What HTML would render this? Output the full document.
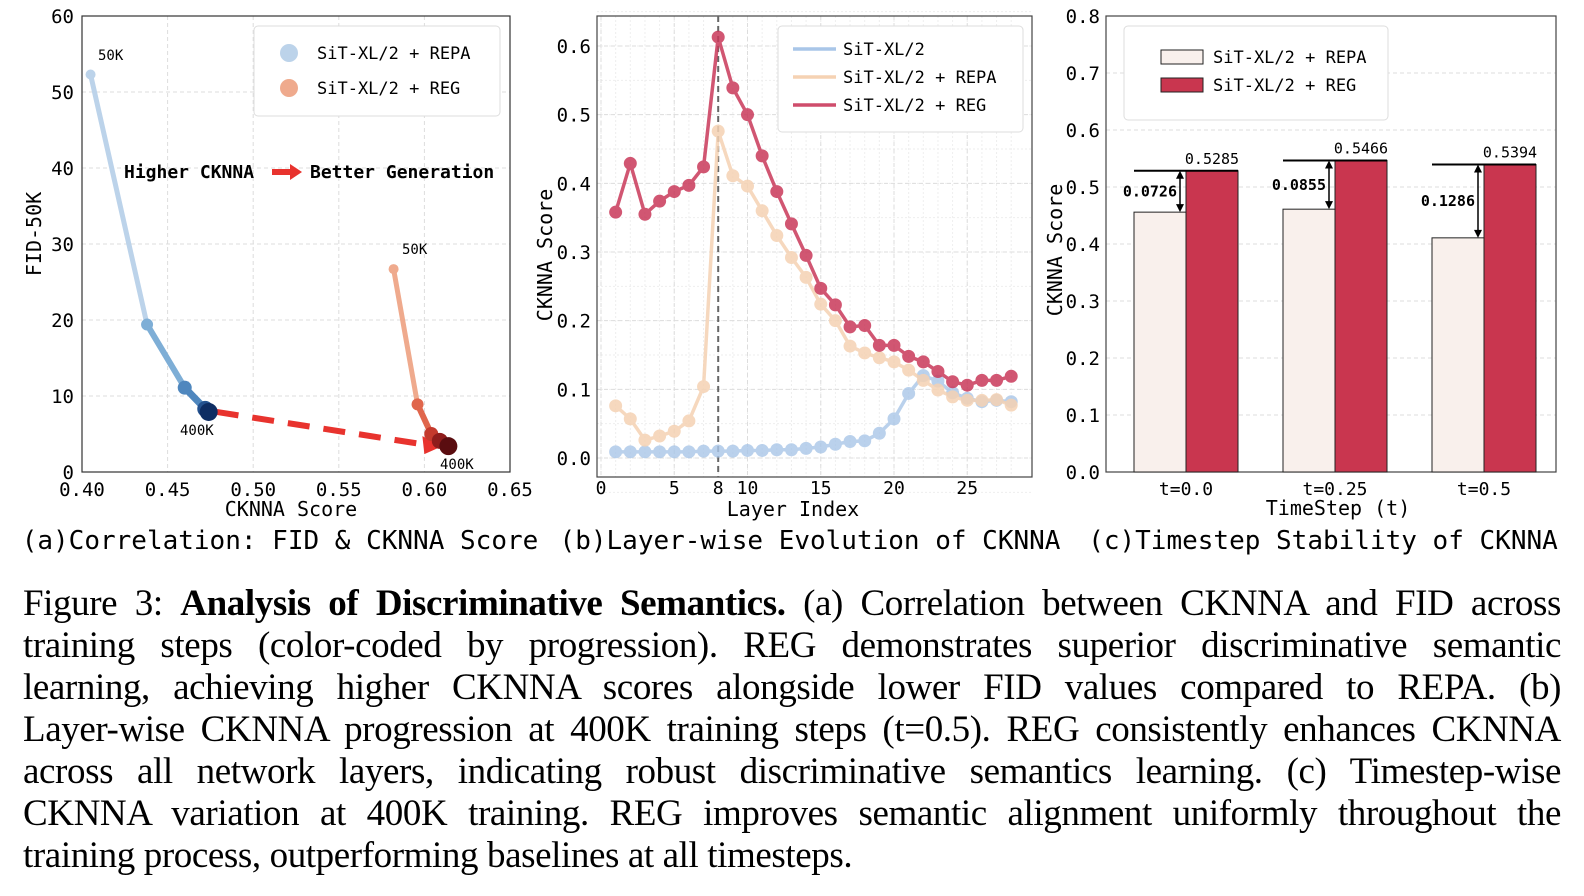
<!DOCTYPE html>
<html><head><meta charset="utf-8">
<style>
body{margin:0;background:#fff;width:1584px;height:896px;overflow:hidden;position:relative}
svg{position:absolute;left:0;top:0}
.mono{font-family:"DejaVu Sans Mono","Liberation Mono",monospace}
.cap{position:absolute;left:23px;width:1538px;font-family:"Liberation Serif",serif;font-size:37px;letter-spacing:-0.4px;line-height:42px;color:#000}
.cap div{white-space:nowrap;text-align:justify;text-align-last:justify;height:42px}
.cap div.last{text-align-last:left}
</style></head><body>
<svg id="fig" width="1584" height="560" class="mono"></svg>
<div class="cap" style="top:583px">
<div>Figure 3: <b>Analysis of Discriminative Semantics.</b> (a) Correlation between CKNNA and FID across</div>
<div>training steps (color-coded by progression). REG demonstrates superior discriminative semantic</div>
<div>learning, achieving higher CKNNA scores alongside lower FID values compared to REPA. (b)</div>
<div>Layer-wise CKNNA progression at 400K training steps (t=0.5). REG consistently enhances CKNNA</div>
<div>across all network layers, indicating robust discriminative semantics learning. (c) Timestep-wise</div>
<div>CKNNA variation at 400K training. REG improves semantic alignment uniformly throughout the</div>
<div class="last">training process, outperforming baselines at all timesteps.</div>
</div>
<script>
// Panel A data
const repaCk=[0.405,0.438,0.460,0.472,0.474];
const repaFid=[52.3,19.4,11.1,8.3,7.9];
const regCk=[0.582,0.596,0.604,0.609,0.614];
const regFid=[26.7,8.9,5.0,4.1,3.4];
const aXTicks=[0.40,0.45,0.50,0.55,0.60,0.65];
const aYTicks=[0,10,20,30,40,50,60];
// Panel B data
const layers=[1,2,3,4,5,6,7,8,9,10,11,12,13,14,15,16,17,18,19,20,21,22,23,24,25,26,27,28];
const bSit=[0.009,0.009,0.009,0.009,0.009,0.009,0.010,0.010,0.010,0.011,0.011,0.012,0.012,0.014,0.016,0.020,0.024,0.025,0.036,0.057,0.094,0.120,0.112,0.095,0.087,0.082,0.084,0.082];
const bRepa=[0.076,0.057,0.026,0.032,0.039,0.054,0.104,0.476,0.411,0.396,0.360,0.324,0.292,0.263,0.224,0.200,0.163,0.153,0.146,0.140,0.128,0.113,0.099,0.089,0.084,0.084,0.085,0.077];
const bReg=[0.358,0.429,0.355,0.374,0.388,0.397,0.424,0.613,0.539,0.500,0.440,0.388,0.341,0.295,0.247,0.223,0.191,0.193,0.164,0.164,0.148,0.140,0.126,0.111,0.106,0.113,0.113,0.119];
const bXTicks=[0,5,8,10,15,20,25];
const bYTicks=[0.0,0.1,0.2,0.3,0.4,0.5,0.6];
// Panel C data
const cCats=["t=0.0","t=0.25","t=0.5"];
const cRepa=[0.4559,0.4611,0.4108];
const cReg=[0.5285,0.5466,0.5394];
const cYTicks=[0.0,0.1,0.2,0.3,0.4,0.5,0.6,0.7,0.8];

const NS="http://www.w3.org/2000/svg";
const svg=document.getElementById('fig');
function el(tag,attrs,parent,text){const e=document.createElementNS(NS,tag);for(const k in attrs)e.setAttribute(k,attrs[k]);if(text!==undefined)e.textContent=text;(parent||svg).appendChild(e);return e;}
function grp(name){const g=el('g',{});


return g;}

// ---------- Panel A ----------
const A={l:82,r:510,t:16,b:472};
const ax=v=>A.l+(v-0.40)/(0.25)*(A.r-A.l);
const ay=v=>A.b-(v/60)*(A.b-A.t);
const gA=grp('panel-a-correlation');
aXTicks.forEach(v=>{el('line',{x1:ax(v),x2:ax(v),y1:A.t,y2:A.b,stroke:'#ddd','stroke-dasharray':'4 3'},gA);
const t=el('text',{x:ax(v),y:A.b+24,'font-size':19,'text-anchor':'middle'},gA,v.toFixed(2));

});
aYTicks.forEach(v=>{el('line',{x1:A.l,x2:A.r,y1:ay(v),y2:ay(v),stroke:'#ddd','stroke-dasharray':'4 3'},gA);
const t=el('text',{x:A.l-8,y:ay(v)+7,'font-size':19,'text-anchor':'end'},gA,String(v));

});
el('rect',{x:A.l,y:A.t,width:A.r-A.l,height:A.b-A.t,fill:'none',stroke:'#333','stroke-width':1.2},gA);
const repaCols=['#bcd3ea','#7eaed6','#4f87be','#24528f','#0e2d63'];
const regCols=['#efaa8d','#e0664c','#c43a2d','#8f1d1c','#5a0d10'];
const rW=[5,6,7,8,9], rR=[5,6,7,8,9];
for(let i=0;i<4;i++){el('line',{x1:ax(repaCk[i]),y1:ay(repaFid[i]),x2:ax(repaCk[i+1]),y2:ay(repaFid[i+1]),stroke:repaCols[i],'stroke-width':rW[i],'stroke-linecap':'round'},gA);
el('line',{x1:ax(regCk[i]),y1:ay(regFid[i]),x2:ax(regCk[i+1]),y2:ay(regFid[i+1]),stroke:regCols[i],'stroke-width':rW[i],'stroke-linecap':'round'},gA);}
el('line',{x1:ax(repaCk[4])+8,y1:ay(repaFid[4]),x2:ax(regCk[4])-20,y2:ay(regFid[4])-1,stroke:'#e8332e','stroke-width':6,'stroke-dasharray':'22 14'},gA);
el('polygon',{points:`${ax(regCk[4])-6},${ay(regFid[4])} ${ax(regCk[4])-26},${ay(regFid[4])-10} ${ax(regCk[4])-24},${ay(regFid[4])+8}`,fill:'#e8332e'},gA);
for(let i=0;i<5;i++){const c=el('circle',{cx:ax(repaCk[i]),cy:ay(repaFid[i]),r:rR[i],fill:repaCols[i]},gA);


const d=el('circle',{cx:ax(regCk[i]),cy:ay(regFid[i]),r:rR[i],fill:regCols[i]},gA);

}
el('text',{x:98,y:60,'font-size':14},gA,'50K');
el('text',{x:180,y:435,'font-size':14},gA,'400K');
el('text',{x:402,y:254,'font-size':14},gA,'50K');
el('text',{x:440,y:469,'font-size':14},gA,'400K');
el('text',{x:124,y:178,'font-size':18,'font-weight':'bold'},gA,'Higher CKNNA');
el('polygon',{points:'272,169 290,169 290,164 302,172 290,180 290,175 272,175',fill:'#e8332e'},gA);
el('text',{x:310,y:178,'font-size':18,'font-weight':'bold'},gA,'Better Generation');
const lgA=el('g',{},gA);


el('rect',{x:254,y:26,width:246,height:90,rx:4,fill:'#fff',stroke:'#ddd'},lgA);
el('circle',{cx:289,cy:53,r:9,fill:repaCols[0]},lgA);
el('text',{x:317,y:59,'font-size':17},lgA,'SiT-XL/2 + REPA');
el('circle',{cx:289,cy:88,r:9,fill:regCols[0]},lgA);
el('text',{x:317,y:94,'font-size':17},lgA,'SiT-XL/2 + REG');
el('text',{x:291,y:516,'font-size':20,'text-anchor':'middle'},gA,'CKNNA Score');
el('text',{x:0,y:0,'font-size':20,'text-anchor':'middle',transform:`translate(41,${(A.t+A.b)/2-10}) rotate(-90)`},gA,'FID-50K');
el('text',{x:280,y:549,'font-size':26,'text-anchor':'middle'},gA,'(a)Correlation: FID & CKNNA Score');

// ---------- Panel B ----------
const B={l:597,r:1032,t:16,b:477};
const bx=v=>601+v*14.65;
const by=v=>458-v/0.6*412;
const gB=grp('panel-b-layerwise');
for(let v=0;v<=28;v++){el('line',{x1:bx(v),x2:bx(v),y1:B.t,y2:B.b,stroke:'#eee','stroke-dasharray':'2 2'},gB);}
for(let v=-0.05;v<=0.66;v+=0.05){el('line',{x1:B.l,x2:B.r,y1:by(v),y2:by(v),stroke:'#eee','stroke-dasharray':'2 2'},gB);}
bXTicks.forEach(v=>{if(v!==8)el('line',{x1:bx(v),x2:bx(v),y1:B.t,y2:B.b,stroke:'#ddd','stroke-dasharray':'4 3'},gB);
const t=el('text',{x:bx(v),y:B.b+17,'font-size':18,'text-anchor':'middle'},gB,String(v));

});
bYTicks.forEach(v=>{el('line',{x1:B.l,x2:B.r,y1:by(v),y2:by(v),stroke:'#ddd','stroke-dasharray':'4 3'},gB);
const t=el('text',{x:B.l-6,y:by(v)+7,'font-size':19,'text-anchor':'end'},gB,v.toFixed(1));

});
el('rect',{x:B.l,y:B.t,width:B.r-B.l,height:B.b-B.t,fill:'none',stroke:'#444','stroke-width':1.2},gB);
el('line',{x1:bx(8),x2:bx(8),y1:B.t,y2:B.b,stroke:'#666','stroke-width':2,'stroke-dasharray':'6 4'},gB);
function series(vals,col,op,name){const g=el('g',{opacity:op},gB);


el('polyline',{points:layers.map((l,i)=>bx(l)+','+by(vals[i])).join(' '),fill:'none',stroke:col,'stroke-width':3.5},g);
layers.forEach((l,i)=>{const c=el('circle',{cx:bx(l),cy:by(vals[i]),r:6.5,fill:col},g);

});}
series(bSit,'#a9c6e8',0.8,'series-sit');
series(bRepa,'#f5d2b3',0.85,'series-repa');
series(bReg,'#c9395a',0.85,'series-reg');
const lgB=el('g',{},gB);


el('rect',{x:778,y:26,width:245,height:106,rx:4,fill:'#fff',stroke:'#ddd'},lgB);
[['SiT-XL/2','#a9c6e8'],['SiT-XL/2 + REPA','#f5d2b3'],['SiT-XL/2 + REG','#cf4d6c']].forEach((d,i)=>{
el('line',{x1:793,x2:836,y1:49+i*28,y2:49+i*28,stroke:d[1],'stroke-width':3.5},lgB);
el('text',{x:843,y:55+i*28,'font-size':17},lgB,d[0]);});
el('text',{x:793,y:516,'font-size':20,'text-anchor':'middle'},gB,'Layer Index');
el('text',{x:0,y:0,'font-size':20,'text-anchor':'middle',transform:`translate(552,255) rotate(-90)`},gB,'CKNNA Score');
el('text',{x:810,y:549,'font-size':26,'text-anchor':'middle'},gB,'(b)Layer-wise Evolution of CKNNA');

// ---------- Panel C ----------
const C={l:1106,r:1556,t:16,b:472};
const cy=v=>C.b-v/0.8*(C.b-C.t);
const cx=i=>1186+i*149;
const bw=52;
const gC=grp('panel-c-timestep');
cYTicks.forEach(v=>{if(v>0)el('line',{x1:C.l,x2:C.r,y1:cy(v),y2:cy(v),stroke:'#ddd','stroke-dasharray':'4 3'},gC);
const t=el('text',{x:C.l-6,y:cy(v)+7,'font-size':19,'text-anchor':'end'},gC,v.toFixed(1));

});
el('rect',{x:C.l,y:C.t,width:C.r-C.l,height:C.b-C.t,fill:'none',stroke:'#444','stroke-width':1.2},gC);
cCats.forEach((c,i)=>{
const a=el('rect',{x:cx(i)-bw,y:cy(cRepa[i]),width:bw,height:C.b-cy(cRepa[i]),fill:'#f9f0ec',stroke:'#222','stroke-width':1},gC);


const b=el('rect',{x:cx(i),y:cy(cReg[i]),width:bw,height:C.b-cy(cReg[i]),fill:'#c9364f',stroke:'#222','stroke-width':1},gC);


el('line',{x1:cx(i)-bw,x2:cx(i)+bw,y1:cy(cReg[i]),y2:cy(cReg[i]),stroke:'#000','stroke-width':2},gC);
const ax2=cx(i)-6;
el('line',{x1:ax2,x2:ax2,y1:cy(cReg[i])+6,y2:cy(cRepa[i])-6,stroke:'#000','stroke-width':1.5},gC);
el('polygon',{points:`${ax2},${cy(cReg[i])} ${ax2-4},${cy(cReg[i])+8} ${ax2+4},${cy(cReg[i])+8}`},gC);
el('polygon',{points:`${ax2},${cy(cRepa[i])} ${ax2-4},${cy(cRepa[i])-8} ${ax2+4},${cy(cRepa[i])-8}`},gC);
el('text',{x:cx(i)+bw/2,y:cy(cReg[i])-7,'font-size':15,'text-anchor':'middle'},gC,cReg[i].toFixed(4));
el('text',{x:ax2-3,y:(cy(cReg[i])+cy(cRepa[i]))/2+5,'font-size':15,'font-weight':'bold','text-anchor':'end'},gC,(cReg[i]-cRepa[i]).toFixed(4));
el('text',{x:cx(i),y:C.b+23,'font-size':18,'text-anchor':'middle'},gC,c);});
const lgC=el('g',{},gC);


el('rect',{x:1124,y:26,width:264,height:94,rx:4,fill:'#fff',stroke:'#ddd'},lgC);
el('rect',{x:1161,y:50,width:42,height:14,fill:'#f9f0ec',stroke:'#222'},lgC);
el('text',{x:1213,y:63,'font-size':17},lgC,'SiT-XL/2 + REPA');
el('rect',{x:1161,y:78,width:42,height:14,fill:'#c9364f',stroke:'#222'},lgC);
el('text',{x:1213,y:91,'font-size':17},lgC,'SiT-XL/2 + REG');
el('text',{x:1338,y:515,'font-size':20,'text-anchor':'middle'},gC,'TimeStep (t)');
el('text',{x:0,y:0,'font-size':20,'text-anchor':'middle',transform:`translate(1062,250) rotate(-90)`},gC,'CKNNA Score');
el('text',{x:1323,y:549,'font-size':26,'text-anchor':'middle'},gC,'(c)Timestep Stability of CKNNA');
</script>
</body></html>
